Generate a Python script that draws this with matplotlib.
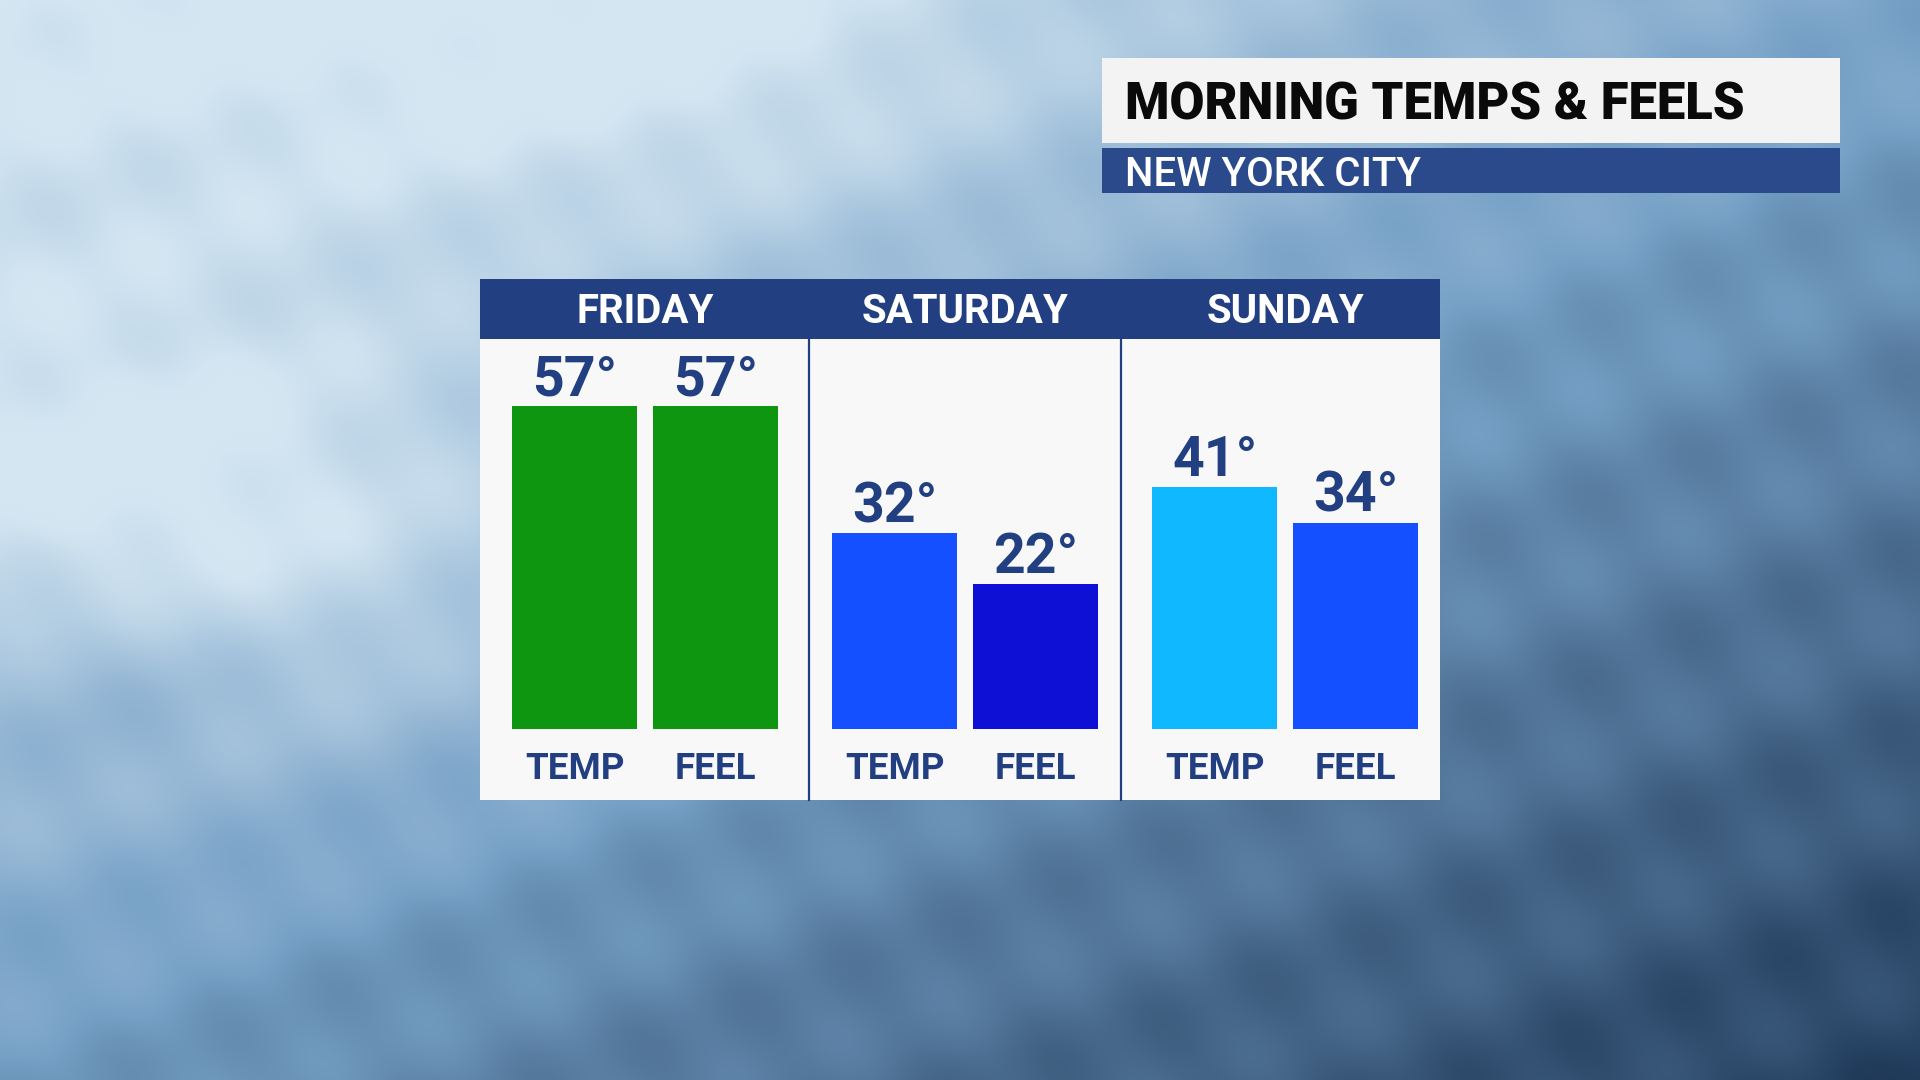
import matplotlib
matplotlib.use("Agg")
import matplotlib.pyplot as plt
import numpy as np
from matplotlib.patches import Rectangle

# chart data
days = ["FRIDAY", "SATURDAY", "SUNDAY"]
temps = [57, 32, 41]
feels = [57, 22, 34]
temp_colors = ["#0E9610", "#1450FF", "#10B8FF"]
feel_colors = ["#0E9610", "#0F10D6", "#1450FF"]
bar_names = ["TEMP", "FEEL"]
title = "MORNING TEMPS & FEELS"
subtitle = "NEW YORK CITY"

NAVY = "#223F82"
FONT = "Roboto"
BASE = -6.5  # where the bars start on the value scale


def ice_background():
    yy, xx = np.mgrid[0:1:270j, 0:1:480j]
    d = 0.55 * xx + 0.62 * yy
    d = d - 0.4 * np.exp(-((xx - 0.1) ** 2 / 0.04 + (yy - 0.5) ** 2 / 0.05))
    d = d - 0.25 * np.exp(-((xx - 0.35) ** 2 / 0.06 + (yy - 0.05) ** 2 / 0.04))
    d = d + 0.2 * np.exp(-((xx - 0.05) ** 2 / 0.01 + (yy - 0.62) ** 2 / 0.01))
    d = d + 0.04 * np.sin(38 * (0.7 * xx + yy)) + 0.025 * np.sin(90 * (xx - 0.4 * yy))
    d = np.clip(d, 0, 1.2) / 1.2
    light = np.array([212, 230, 242]) / 255
    mid = np.array([118, 160, 198]) / 255
    dark = np.array([32, 58, 90]) / 255
    t = d[..., None]
    img = np.where(t < 0.5, light + (mid - light) * (t / 0.5), mid + (dark - mid) * ((t - 0.5) / 0.5))
    return np.clip(img, 0, 1)


fig = plt.figure(figsize=(19.2, 10.8), dpi=100)

bg = fig.add_axes([0, 0, 1, 1])
bg.imshow(ice_background(), extent=[0, 1920, 1080, 0], aspect="auto", interpolation="bicubic")
bg.set_xlim(0, 1920)
bg.set_ylim(1080, 0)
bg.axis("off")

# title block
bg.add_patch(Rectangle((1102, 58), 738, 85, fc="#F3F3F3", ec="none"))
bg.add_patch(Rectangle((1102, 148), 738, 45, fc="#2B4A8C", ec="none"))
bg.text(1125, 119, title, fontsize=36.5, fontweight="black", family=FONT, color="#0A0A0A", va="baseline")
bg.text(1125, 186, subtitle, fontsize=29, fontweight="medium", family=FONT, color="white", va="baseline")

# panel
bg.add_patch(Rectangle((480, 279), 960, 521, fc="#F8F8F8", ec="none"))
bg.add_patch(Rectangle((480, 279), 960, 60, fc=NAVY, ec="none"))
for xd in [809, 1121]:
    bg.plot([xd, xd], [339, 800], color=NAVY, linewidth=1.6)

ax = fig.add_axes([0.25, 280 / 1080, 0.5, 461 / 1080])
ax.set_xlim(-0.516, 2.484)
ax.set_ylim(-20.47, 70.2)
ax.axis("off")

x = np.arange(len(days))
w = 0.39
off = 0.22
ax.bar(x - off, np.array(temps) - BASE, w, bottom=BASE, color=temp_colors, linewidth=0)
ax.bar(x + off, np.array(feels) - BASE, w, bottom=BASE, color=feel_colors, linewidth=0)

for i in range(len(days)):
    for dx, v in [(-off, temps[i]), (off, feels[i])]:
        ax.annotate(f"{v}°", (x[i] + dx, v), xytext=(0, 8), textcoords="offset points",
                    ha="center", va="baseline", fontsize=40, fontweight="bold", family=FONT, color=NAVY)
    for dx, name in zip([-off, off], bar_names):
        ax.text(x[i] + dx, -14.3, name, ha="center", va="center", fontsize=26.5,
                fontweight="bold", family=FONT, color=NAVY)
    ax.annotate(days[i], (x[i], 70.2), xytext=(0, 27), textcoords="offset pixels",
                ha="center", va="center", fontsize=29, fontweight="bold", family=FONT, color="white",
                annotation_clip=False)

fig.savefig("out.png", dpi=100)
